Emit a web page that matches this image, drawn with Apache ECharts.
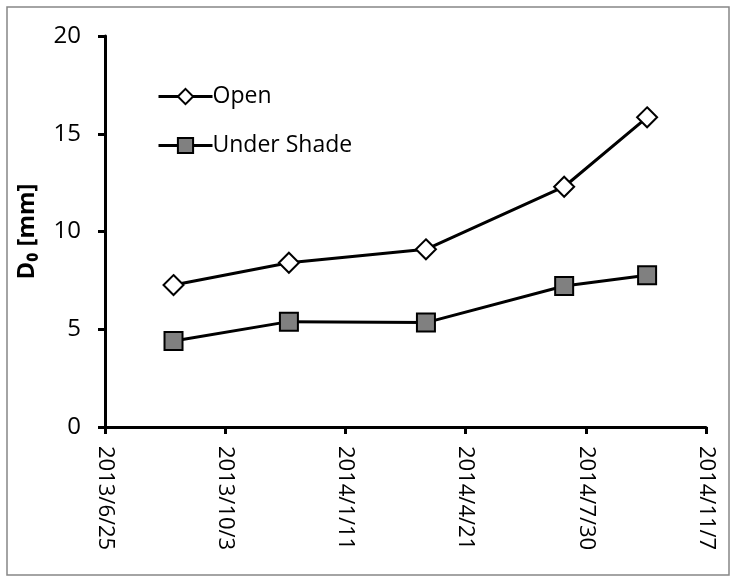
<!DOCTYPE html>
<html>
<head>
<meta charset="utf-8">
<style>
  html, body { margin: 0; padding: 0; background: #fff; }
  #main { width: 736px; height: 581px; }
</style>
<script src="https://cdn.jsdelivr.net/npm/echarts@6/dist/echarts.min.js"></script>
</head>
<body>
<div id="main"></div>
<script>
// sampling dates and D0 values
var dates = ['2013/8/21', '2013/11/25', '2014/3/19', '2014/7/12', '2014/9/19'];
var openVals = [7.26, 8.40, 9.09, 12.29, 15.84];
var shadeVals = [4.40, 5.39, 5.34, 7.21, 7.76];
var seriesNames = ['Open', 'Under Shade'];
var yTicks = [0, 5, 10, 15, 20];

// excel style day serials, so the x ticks fall on 41450, 41550 ...
var toSerial = function (s) {
    var p = s.split('/');
    return Date.UTC(+p[0], +p[1] - 1, +p[2]) / 86400000 + 25569;
};
var serialLabel = function (v) {
    var d = new Date((v - 25569) * 86400000);
    return d.getUTCFullYear() + '/' + (d.getUTCMonth() + 1) + '/' + d.getUTCDate();
};
var pairs = function (vals) {
    var r = [];
    for (var i = 0; i < dates.length; i++) {
        r.push([toSerial(dates[i]), vals[i]]);
    }
    return r;
};

var font = '"Open Sans", sans-serif';
var myChart = echarts.init(document.getElementById('main'));
var option = {
    animation: false,
    backgroundColor: '#fff',
    graphic: [{
        type: 'rect',
        shape: {x: 7, y: 7, width: 722, height: 568},
        style: {fill: 'none', stroke: '#868686', lineWidth: 1.5},
        silent: true
    }],
    grid: {left: 105, right: 30, top: 36, bottom: 154},
    legend: {
        orient: 'vertical',
        left: 152,
        top: 80,
        itemGap: 26,
        itemWidth: 54,
        itemHeight: 19,
        lineStyle: {width: 3, color: '#000'},
        textStyle: {fontFamily: font, fontSize: 23, color: '#000', padding: [0, 0, 0, -5]},
        data: seriesNames
    },
    xAxis: {
        type: 'value',
        min: 41450,
        max: 41950,
        interval: 100,
        splitLine: {show: false},
        axisLine: {lineStyle: {color: '#000', width: 3}},
        axisTick: {inside: false, length: 7, lineStyle: {color: '#000', width: 3}},
        axisLabel: {
            rotate: -90,
            fontFamily: font,
            fontSize: 22,
            color: '#000',
            margin: 19,
            formatter: serialLabel
        }
    },
    yAxis: {
        type: 'value',
        min: yTicks[0],
        max: yTicks[yTicks.length - 1],
        interval: 5,
        name: 'D\u2080 [mm]',
        nameLocation: 'middle',
        nameGap: 66,
        nameTextStyle: {fontFamily: font, fontSize: 24, fontWeight: 'bold', color: '#000'},
        splitLine: {show: false},
        axisLine: {show: true, lineStyle: {color: '#000', width: 3}},
        axisTick: {show: true, length: 7, lineStyle: {color: '#000', width: 3}},
        axisLabel: {fontFamily: font, fontSize: 24, color: '#000', margin: 24}
    },
    series: [
        {
            name: seriesNames[0],
            type: 'line',
            data: pairs(openVals),
            symbol: 'diamond',
            symbolSize: 20,
            lineStyle: {color: '#000', width: 3},
            itemStyle: {color: '#fff', borderColor: '#000', borderWidth: 2},
            z: 3
        },
        {
            name: seriesNames[1],
            type: 'line',
            data: pairs(shadeVals),
            symbol: 'rect',
            symbolSize: 18,
            lineStyle: {color: '#000', width: 3},
            itemStyle: {color: '#808080', borderColor: '#000', borderWidth: 2},
            z: 3
        }
    ]
};
myChart.setOption(option);
</script>
</body>
</html>
